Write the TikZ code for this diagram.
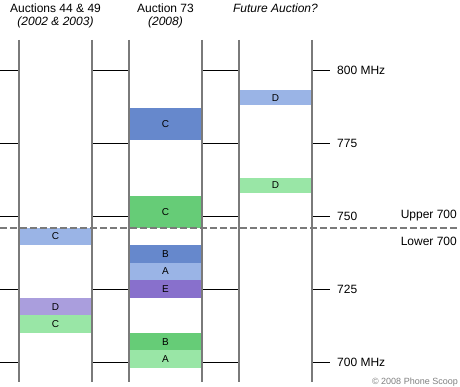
\documentclass[tikz,border=0pt]{standalone}
\usepackage{fontspec}
\setmainfont{Liberation Sans}
\definecolor{paleblue}{HTML}{9AB4E6}
\definecolor{deepblue}{HTML}{6688CC}
\definecolor{palegreen}{HTML}{99E6A6}
\definecolor{deepgreen}{HTML}{66CC77}
\definecolor{palepurple}{HTML}{AA9EDD}
\definecolor{deeppurple}{HTML}{8870CC}
\definecolor{railgray}{HTML}{7A7A7A}
\tikzset{
  band/.style={minimum width=73pt, minimum height=17.5pt, inner sep=0pt, outer sep=0pt, font=\fontsize{10}{11}\selectfont},
  wideband/.style={band, minimum height=32.1pt},
  thinband/.style={band, minimum height=14.6pt},
  rail/.style={draw=railgray, line width=1.5pt},
  tickline/.style={draw=black, line width=0.9pt},
  splitline/.style={draw=railgray, line width=1.5pt, dash pattern=on 6.5pt off 3.5pt},
  head/.style={font=\fontsize{12}{14}\selectfont, anchor=base},
  axislabel/.style={font=\fontsize{12}{14}\selectfont, anchor=base west, inner sep=0pt},
  zonelabel/.style={font=\fontsize{12}{14}\selectfont, anchor=base east, inner sep=0pt}
}

\begin{document}
\begin{tikzpicture}[x=1pt, y=-1pt]
  \useasboundingbox (0,0) rectangle (460,387);

  % column headings
  \node[head] (h1) at (55.5,13) {Auctions 44 \& 49};
  \node[head] (h1y) at (55.5,26) {\itshape (2002 \& 2003)};
  \node[head] (h2) at (165.5,13) {Auction 73};
  \node[head] (h2y) at (165.5,26) {\itshape (2008)};
  \node[head] (h3) at (275.5,13) {\itshape Future Auction?};

  % auctions 44 & 49
  \node[band, fill=paleblue] (oldC) at (55.5,236.5) {C};
  \node[band, fill=palepurple] (oldD) at (55.5,306.6) {D};
  \node[band, fill=palegreen] (oldCg) at (55.5,324.1) {C};

  % auction 73
  \node[wideband, fill=deepblue] (upC) at (165.5,124) {C};
  \node[wideband, fill=deepgreen] (upCg) at (165.5,211.7) {C};
  \node[band, fill=deepblue] (lowB) at (165.5,254) {B};
  \node[band, fill=paleblue] (lowA) at (165.5,271.5) {A};
  \node[band, fill=deeppurple] (lowE) at (165.5,289) {E};
  \node[band, fill=deepgreen] (lowBg) at (165.5,341.6) {B};
  \node[band, fill=palegreen] (lowAg) at (165.5,359.1) {A};

  % future auction
  \node[thinband, fill=paleblue] (futD) at (275.5,97.7) {D};
  \node[thinband, fill=palegreen] (futDg) at (275.5,185.3) {D};

  % frequency ticks
  \foreach \y in {70,143,216,289,362} {
    \draw[tickline] (0,\y) -- (19,\y);
    \draw[tickline] (92,\y) -- (129,\y);
    \draw[tickline] (202,\y) -- (239,\y);
    \draw[tickline] (312,\y) -- (330,\y);
  }

  % column rails
  \draw[rail] (19,40) -- (19,382);
  \draw[rail] (92,40) -- (92,382);
  \draw[rail] (129,40) -- (129,382);
  \draw[rail] (202,40) -- (202,382);
  \draw[rail] (239,40) -- (239,382);
  \draw[rail] (312,40) -- (312,382);

  % upper / lower 700 split
  \draw[splitline] (0,228) -- (460,228);

  \node[axislabel] (f800) at (337,74.3) {800 MHz};
  \node[axislabel] (f775) at (337,147.3) {775};
  \node[axislabel] (f750) at (337,220.3) {750};
  \node[axislabel] (f725) at (337,293.3) {725};
  \node[axislabel] (f700) at (337,366.3) {700 MHz};
  \node[zonelabel] (upper) at (457,219) {Upper 700};
  \node[zonelabel] (lower) at (457,245.7) {Lower 700};

  \node[anchor=base east, inner sep=0pt, text=gray, font=\fontsize{9}{10}\selectfont] (credit) at (458,384.5) {© 2008 Phone Scoop};
\end{tikzpicture}
\end{document}
